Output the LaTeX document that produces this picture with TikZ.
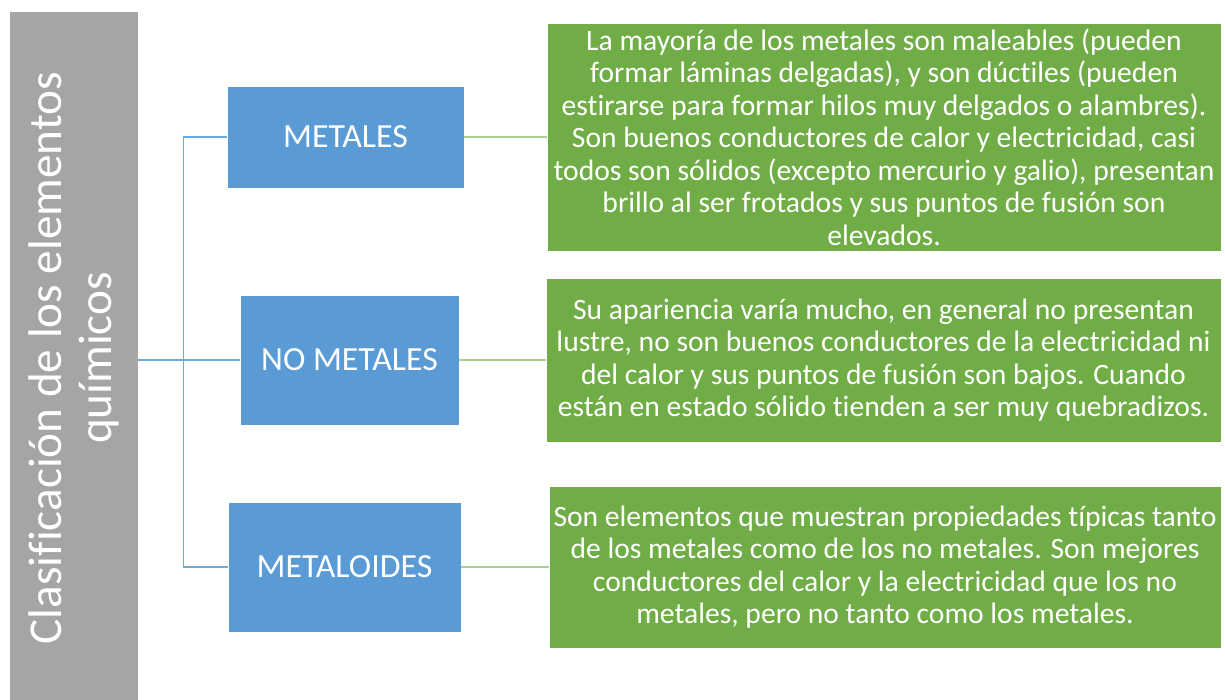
\documentclass[tikz,border=0pt]{standalone}
\usepackage{fontspec}
\setmainfont[Ligatures=NoCommon]{Carlito}
\usepackage{xcolor}
\usetikzlibrary{positioning,calc}
\definecolor{sablue}{HTML}{5B9BD5}
\definecolor{sagreen}{HTML}{70AD47}
\definecolor{sagray}{HTML}{A5A5A5}
\definecolor{linkblue}{HTML}{6FA8DC}
\definecolor{linkgreen}{HTML}{A9D18E}
\tikzset{
  rootbox/.style={fill=sagray, draw=white, line width=0.6pt, text=white,
    minimum width=129pt, minimum height=691pt,
    align=center, inner sep=0pt},
  classbox/.style={fill=sablue, draw=white, line width=0.6pt, text=white,
    align=center, inner sep=0pt,
    font=\fontsize{33.8}{38}\selectfont},
  descbox/.style={fill=sagreen, draw=white, line width=0.6pt, text=white,
    align=center, inner sep=0pt,
    font=\fontsize{29.6}{32.5}\selectfont},
  blink/.style={draw=linkblue, line width=1.3pt},
  glink/.style={draw=linkgreen, line width=1.3pt},
}

\begin{document}
\begin{tikzpicture}[x=1pt, y=-1pt]
  \useasboundingbox (0,0) rectangle (1225,700);
  \node[rootbox] (root) at (73.5,356.5) {};
  \node[rotate=90, text=white, align=center,
    font=\fontsize{47.2}{50}\selectfont] (roottext) at (74,358)
    {Clasificación de los elementos\\químicos};
  % clases
  \node[classbox, minimum width=237pt, minimum height=102pt] (met) at (345.5,137) {METALES};
  \node[classbox, minimum width=219pt, minimum height=130pt] (nomet) at (349.5,360) {NO METALES};
  \node[classbox, minimum width=233pt, minimum height=130pt] (metal) at (344.5,567) {METALOIDES};
  % descripciones
  \node[descbox, minimum width=674pt, minimum height=228pt] (dmet) at (884,137)
    {La mayoría de los metales son maleables (pueden\\
     formar láminas delgadas), y son dúctiles (pueden\\
     estirarse para formar hilos muy delgados o alambres).\\
     Son buenos conductores de calor y electricidad, casi\\
     todos son sólidos (excepto mercurio y galio), presentan\\
     brillo al ser frotados y sus puntos de fusión son\\
     elevados.};
  \node[descbox, minimum width=675pt, minimum height=164pt] (dnomet) at (883.5,360)
    {Su apariencia varía mucho, en general no presentan\\
     lustre, no son buenos conductores de la electricidad ni\\
     del calor y sus puntos de fusión son bajos. Cuando\\
     están en estado sólido tienden a ser muy quebradizos.};
  \node[descbox, minimum width=672pt, minimum height=162pt] (dmetal) at (885,567)
    {Son elementos que muestran propiedades típicas tanto\\
     de los metales como de los no metales. Son mejores\\
     conductores del calor y la electricidad que los no\\
     metales, pero no tanto como los metales.};
  \draw[blink] (root.east |- nomet) -- ++(45,0) coordinate (trunk) -- (nomet.west);
  \draw[blink] (met.west) -- (trunk |- met) -- (trunk |- metal) -- (metal.west);
  \draw[glink] (met.east) -- (dmet.west);
  \draw[glink] (nomet.east) -- (dnomet.west);
  \draw[glink] (metal.east) -- (dmetal.west);
\end{tikzpicture}
\end{document}
